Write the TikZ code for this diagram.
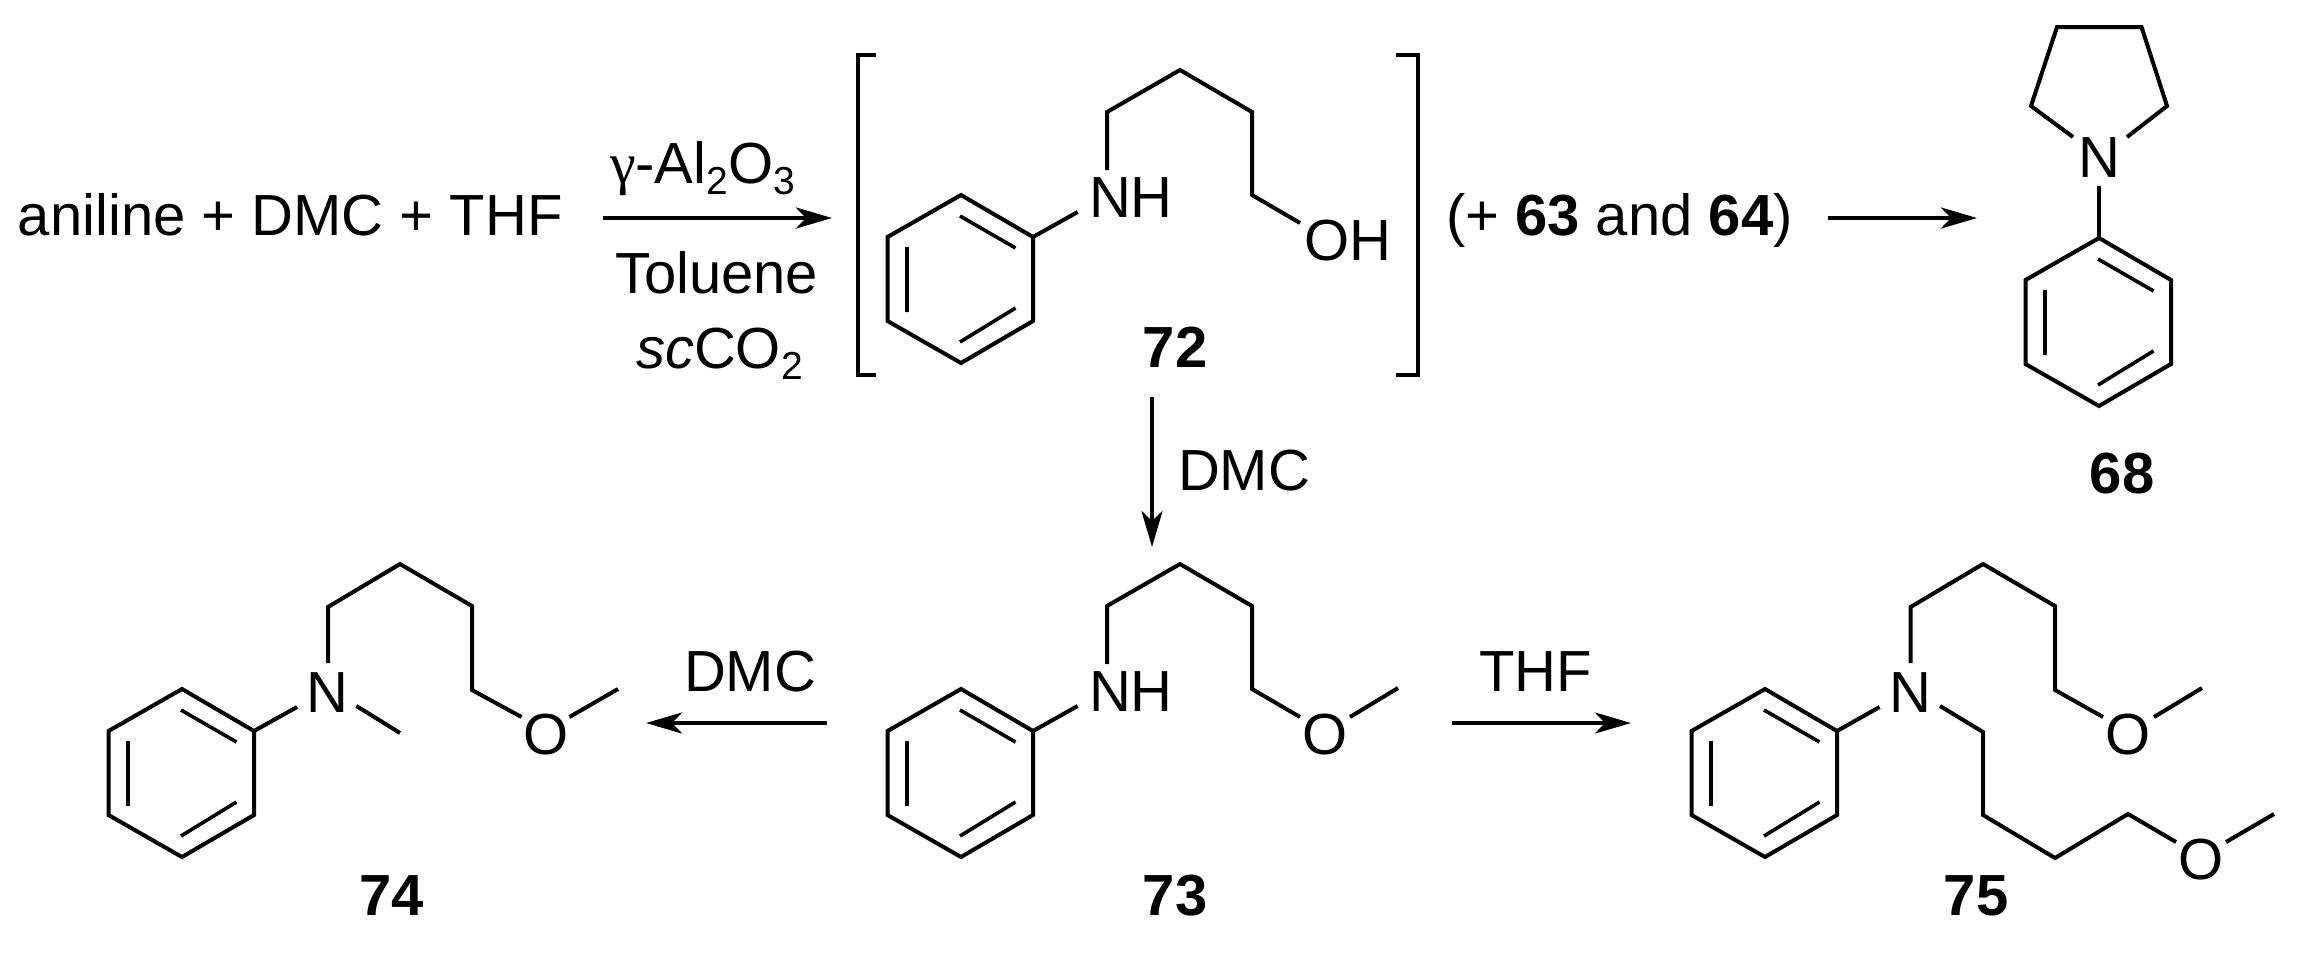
\documentclass[tikz,border=0pt]{standalone}
\usepackage{fontspec}
\setmainfont{Liberation Sans}
\newfontfamily\gkfont{Liberation Serif}
\usetikzlibrary{arrows.meta}
\newcommand{\chemfs}{\fontsize{29pt}{33pt}\selectfont}
\newcommand{\lowsub}[1]{\raisebox{-5.5pt}{\fontsize{19.5pt}{22pt}\selectfont #1}}
\tikzset{
  bond/.style={line width=2pt,line join=miter,line cap=butt},
  inner bond/.style={line width=1.8pt,line cap=butt},
  rxn/.style={line width=2.3pt,-{Stealth[length=18pt,width=10.5pt,inset=5pt]}},
  brk/.style={line width=2pt,line join=miter},
  txt/.style={font=\chemfs,inner sep=0pt,outer sep=0pt,anchor=base west,text=black},
  cmpd/.style={font=\chemfs\bfseries,inner sep=0pt,outer sep=0pt,anchor=base,text=black}
}
% phenyl ring, #1 name, (#2,#3) top vertex
\newcommand{\phring}[3]{
  \begin{scope}[shift={(#2,#3)}]
    \coordinate (#1t) at (0,0);
    \coordinate (#1ur) at (72,42);
    \coordinate (#1lr) at (72,126);
    \coordinate (#1b) at (0,168);
    \coordinate (#1ll) at (-73.5,126);
    \coordinate (#1ul) at (-73.5,42);
    \coordinate (#1i1) at (-1,21);
    \coordinate (#1i2) at (54.5,53);
    \coordinate (#1i3) at (54.5,113);
    \coordinate (#1i4) at (-1,147);
    \coordinate (#1i5) at (-54,52);
    \coordinate (#1i6) at (-54,117);
    \draw[bond] (#1t) -- (#1ur) -- (#1lr) -- (#1b) -- (#1ll) -- (#1ul) -- cycle;
    \draw[inner bond] (#1i1) -- (#1i2) (#1i3) -- (#1i4) (#1i5) -- (#1i6);
  \end{scope}
}
\begin{document}
\begin{tikzpicture}[x=0.5pt,y=-0.5pt]
\path[use as bounding box,fill=white] (0,0) rectangle (2317,955);

% top line text
\node[txt] (sm) at (18,235) {aniline + DMC + THF};
\coordinate (a1s) at (603,218); \coordinate (a1e) at (832,218);
\draw[rxn] (a1s) -- (a1e);
\node[txt] (cat) at (610,183) {{\gkfont γ}-Al\lowsub{2}O\lowsub{3}};
\node[txt] (tol) at (615,293) {Toluene};
\node[txt] (sc) at (636,368) {\textit{sc}CO\lowsub{2}};

% brackets
\coordinate (bl1) at (876,55); \coordinate (bl2) at (858,55); \coordinate (bl3) at (858,375); \coordinate (bl4) at (876,375);
\draw[brk] (bl1) -- (bl2) -- (bl3) -- (bl4);
\coordinate (br1) at (1396,55); \coordinate (br2) at (1418,55); \coordinate (br3) at (1418,375); \coordinate (br4) at (1396,375);
\draw[brk] (br1) -- (br2) -- (br3) -- (br4);

% 72
\phring{p}{961}{195}
\node[txt] (nh72) at (1089,217) {NH};
\node[txt] (oh72) at (1304,260) {OH};
\node[cmpd] (l72) at (1175,367) {72};
\coordinate (b1) at (1077.6,212);
\coordinate (c1) at (1107,170); \coordinate (c2) at (1107,112); \coordinate (c3) at (1180,70);
\coordinate (c4) at (1252,112); \coordinate (c5) at (1252,195); \coordinate (c6) at (1300,223);
\draw[bond] (pur) -- (b1);
\draw[bond] (c1) -- (c2) -- (c3) -- (c4) -- (c5) -- (c6);

% middle text and arrow
\node[txt] (side) at (1446,235) {(+ \textbf{63} and \textbf{64})};
\coordinate (a2s) at (1828,218); \coordinate (a2e) at (1977,218);
\draw[rxn] (a2s) -- (a2e);

% 68
\phring{q}{2099}{238}
\node[txt,anchor=base] (n68) at (2099,177) {N};
\node[cmpd] (l68) at (2122,493) {68};
\coordinate (d1) at (2073,137); \coordinate (d2) at (2031,106); \coordinate (d3) at (2057,27);
\coordinate (d4) at (2141.5,27); \coordinate (d5) at (2167,106); \coordinate (d6) at (2127,137);
\coordinate (d7) at (2099,186);
\draw[bond] (d1) -- (d2) -- (d3) -- (d4) -- (d5) -- (d6);
\draw[bond] (d7) -- (qt);

% vertical arrow
\coordinate (a3s) at (1152,397); \coordinate (a3e) at (1152,547);
\draw[rxn] (a3s) -- (a3e);
\node[txt] (dmcv) at (1178,490) {DMC};

% 73
\phring{r}{961}{689}
\node[txt] (nh73) at (1089,711) {NH};
\node[txt,anchor=base] (o73) at (1325,754) {O};
\node[cmpd] (l73) at (1175,915) {73};
\coordinate (e0) at (1077.6,706);
\coordinate (e1) at (1107,664); \coordinate (e2) at (1107,606); \coordinate (e3) at (1180,564);
\coordinate (e4) at (1252,606); \coordinate (e5) at (1252,689); \coordinate (e6) at (1300,717);
\coordinate (e7) at (1350,717); \coordinate (e8) at (1398,688);
\draw[bond] (rur) -- (e0);
\draw[bond] (e1) -- (e2) -- (e3) -- (e4) -- (e5) -- (e6);
\draw[bond] (e7) -- (e8);

% left arrow
\coordinate (a4s) at (827,723); \coordinate (a4e) at (646,723);
\draw[rxn] (a4s) -- (a4e);
\node[txt] (dmcl) at (684,691) {DMC};

% 74
\phring{s}{182}{689}
\node[txt,anchor=base] (n74) at (327,712) {N};
\node[txt,anchor=base] (o74) at (546,754) {O};
\node[cmpd] (l74) at (392,915) {74};
\coordinate (f0) at (297,707);
\coordinate (f1) at (328,663); \coordinate (f2) at (328,607); \coordinate (f3) at (400,564);
\coordinate (f4) at (472,606); \coordinate (f5) at (472,690); \coordinate (f6) at (521.5,717);
\coordinate (f7) at (569.5,717); \coordinate (f8) at (618,689);
\coordinate (f9) at (356.5,706); \coordinate (f10) at (400,733);
\draw[bond] (sur) -- (f0);
\draw[bond] (f1) -- (f2) -- (f3) -- (f4) -- (f5) -- (f6);
\draw[bond] (f7) -- (f8);
\draw[bond] (f9) -- (f10);

% right arrow
\coordinate (a5s) at (1452,723); \coordinate (a5e) at (1631,723);
\draw[rxn] (a5s) -- (a5e);
\node[txt] (thf) at (1479,691) {THF};

% 75
\phring{u}{1765}{689}
\node[txt,anchor=base] (n75) at (1910,712) {N};
\node[txt,anchor=base] (o75a) at (2128,754) {O};
\node[txt,anchor=base] (o75b) at (2201,879) {O};
\node[cmpd] (l75) at (1976,915) {75};
\coordinate (g0) at (1879.6,707);
\coordinate (g1) at (1910.6,663); \coordinate (g2) at (1910.6,607); \coordinate (g3) at (1983,564);
\coordinate (g4) at (2055,606); \coordinate (g5) at (2055,690); \coordinate (g6) at (2103,717);
\coordinate (g7) at (2154,717); \coordinate (g8) at (2202,688);
\coordinate (h1) at (1940,706); \coordinate (h2) at (1983,732); \coordinate (h3) at (1983,815);
\coordinate (h4) at (2055,858); \coordinate (h5) at (2128,814); \coordinate (h6) at (2176,842);
\coordinate (h7) at (2226,842); \coordinate (h8) at (2274,814);
\draw[bond] (uur) -- (g0);
\draw[bond] (g1) -- (g2) -- (g3) -- (g4) -- (g5) -- (g6);
\draw[bond] (g7) -- (g8);
\draw[bond] (h1) -- (h2) -- (h3) -- (h4) -- (h5) -- (h6);
\draw[bond] (h7) -- (h8);
\end{tikzpicture}
\end{document}
